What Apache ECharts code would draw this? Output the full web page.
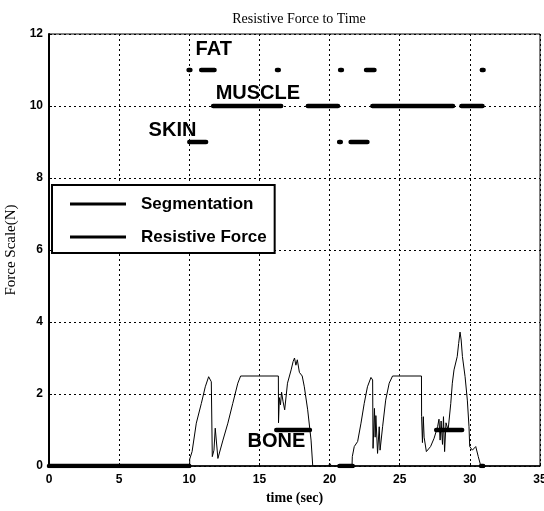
<!DOCTYPE html>
<html>
<head>
<meta charset="utf-8">
<script src="https://cdn.jsdelivr.net/npm/echarts@6/dist/echarts.min.js"></script>
<style>html,body{margin:0;padding:0;background:#fff}#c{width:544px;height:511px}</style>
</head>
<body>
<div id="c"></div>
<script>
// ---- data ----
const xTicks = [0, 5, 10, 15, 20, 25, 30, 35];
const yTicks = [0, 2, 4, 6, 8, 10, 12];

// Resistive force curve: [time (sec), force (N)]
const forceTime = [0,10.03,10.03,10.2,10.5,10.86,11.14,11.38,11.57,11.64,11.76,11.85,11.95,12.04,12.4,12.75,13.1,13.46,13.66,16.35,16.36,16.42,16.5,16.58,16.68,16.8,17.0,17.26,17.4,17.5,17.6,17.7,17.85,18.05,18.2,18.44,18.68,18.8,19.95,20.0,20.15,21.6,21.62,21.76,22.0,22.24,22.47,22.7,22.95,23.07,23.1,23.2,23.25,23.3,23.42,23.54,23.6,23.78,24.0,24.25,24.49,26.55,26.56,26.62,26.68,26.74,26.9,27.2,27.45,27.7,27.8,27.88,27.95,28.05,28.12,28.2,28.3,28.45,28.64,28.75,28.87,29.1,29.2,29.3,29.38,29.47,29.66,29.82,29.94,29.99,30.18,30.42,30.6,30.78,35];
const forceValue = [0,0,0.19,0.4,1.19,1.74,2.2,2.48,2.34,0.26,0.44,1.05,1.0,0.21,0.72,1.19,1.74,2.3,2.5,2.5,1.2,1.9,1.7,2.05,1.8,1.56,2.3,2.67,2.9,3.0,2.8,2.95,2.6,2.5,2.2,1.56,0.72,0,0,0.08,0,0,0.26,0.54,0.68,1.19,1.74,2.2,2.46,2.39,0.49,1.6,0.8,1.4,0.35,1.09,0.44,1.09,1.83,2.3,2.5,2.5,1.37,0.65,1.37,0.8,0.4,0.54,0.77,1.09,1.3,0.72,1.25,0.6,1.37,0.4,1.2,1.0,1.74,2.3,2.67,3.04,3.4,3.72,3.5,3.04,2.48,1.83,1.09,0.54,0.44,0.54,0.26,0];

// Segmentation: time intervals [start, end] at each tissue level
const fatLevel = 11;
const fatSegs = [[9.95,10.08],[10.85,11.8],[16.25,16.38],[20.75,20.88],[22.6,23.2],[30.85,30.98]];
const muscleLevel = 10;
const muscleSegs = [[11.7,16.55],[18.45,20.6],[23.05,28.8],[29.4,30.9]];
const skinLevel = 9;
const skinSegs = [[10.0,11.2],[20.68,20.8],[21.5,22.7]];
const boneLevel = 1;
const boneSegs = [[16.2,18.6],[27.6,29.45]];
const baseLevel = 0;
const baseSegs = [[0,10.0],[20.7,21.65],[30.8,30.95]];

const tissueNames = ['FAT', 'MUSCLE', 'SKIN', 'BONE'];
const tissueTextTime = [10.45, 11.88, 7.1, 14.15];
const tissueTextLevel = [11.58, 10.36, 9.33, 0.69];

// ---- build ----
const forceData = forceTime.map((t, i) => [t, forceValue[i]]);
const segData = [];
[[fatSegs, fatLevel], [muscleSegs, muscleLevel], [skinSegs, skinLevel], [boneSegs, boneLevel], [baseSegs, baseLevel]].forEach(([segs, lv]) => {
  segs.forEach(s => { segData.push([s[0], lv]); segData.push([s[1], lv]); segData.push([s[1], '-']); });
});

const chart = echarts.init(document.getElementById('c'), null, {renderer: 'canvas'});
const tickFont = {color: '#000', fontFamily: 'Liberation Sans, Arial, sans-serif', fontSize: 12, fontWeight: 'bold'};
chart.setOption({
  animation: false,
  backgroundColor: '#fff',
  title: {
    text: 'Resistive Force to Time',
    left: 294, top: 7, textAlign: 'center',
    textStyle: {fontFamily: 'Liberation Serif, Times New Roman, serif', fontSize: 14, fontWeight: 'normal', color: '#000'}
  },
  grid: {left: 49, right: 4, top: 34, bottom: 45, outerBoundsMode: 'none', containLabel: false, show: true, borderColor: '#000', borderWidth: 1, backgroundColor: 'transparent'},
  xAxis: {
    type: 'value', min: 0, max: 35, interval: 5,
    name: 'time (sec)', nameLocation: 'middle', nameGap: 23,
    nameTextStyle: {fontFamily: 'Liberation Serif, Times New Roman, serif', fontSize: 14, color: '#000', fontWeight: 'bold'},
    axisLine: {show: true, onZero: false, lineStyle: {color: '#000', width: 1.5}},
    axisTick: {show: true, inside: true, length: 3, lineStyle: {color: '#000'}},
    axisLabel: Object.assign({margin: 8, formatter: v => xTicks.includes(v) ? String(v) : ''}, tickFont),
    splitLine: {show: true, lineStyle: {color: '#000', type: [2, 3], width: 1}}
  },
  yAxis: {
    type: 'value', min: 0, max: 12, interval: 2,
    name: 'Force Scale(N)', nameLocation: 'middle', nameGap: 29,
    nameTextStyle: {fontFamily: 'Liberation Serif, Times New Roman, serif', fontSize: 15, color: '#000'},
    axisLine: {show: true, onZero: false, lineStyle: {color: '#000', width: 2}},
    axisTick: {show: true, inside: true, length: 3, lineStyle: {color: '#000'}},
    axisLabel: Object.assign({margin: 6, formatter: v => yTicks.includes(v) ? String(v) : ''}, tickFont),
    splitLine: {show: true, lineStyle: {color: '#000', type: [2, 3], width: 1}}
  },
  legend: {
    data: ['Segmentation', 'Resistive Force'],
    orient: 'vertical', left: 52, top: 185,
    backgroundColor: '#fff', borderColor: '#000', borderWidth: 2,
    padding: [9, 8, 6, 18],
    icon: 'rect', itemWidth: 56, itemHeight: 3, itemGap: 13,
    textStyle: {fontFamily: 'Liberation Sans, Arial, sans-serif', fontSize: 17, fontWeight: 'bold', color: '#000', lineHeight: 20, padding: [0, 0, 0, 10]},
    itemStyle: {color: '#000'}
  },
  series: [
    {
      name: 'Resistive Force', type: 'line', data: forceData, symbol: 'none', z: 3,
      lineStyle: {color: '#000', width: 1}, itemStyle: {color: '#000'}
    },
    {
      name: 'Segmentation', type: 'line', data: segData, symbol: 'none', connectNulls: false, z: 4,
      lineStyle: {color: '#000', width: 4.5, cap: 'round'}, itemStyle: {color: '#000'}
    }
  ]
});

// tissue labels placed through the axes' scales
const labelGraphics = tissueNames.map((n, i) => {
  const p = chart.convertToPixel({gridIndex: 0}, [tissueTextTime[i], tissueTextLevel[i]]);
  return {
    type: 'text', x: p[0], y: p[1], z: 10, silent: true,
    style: {text: n, fill: '#000', font: 'bold 20px "Liberation Sans", Arial, sans-serif', textAlign: 'left', textVerticalAlign: 'middle'}
  };
});
chart.setOption({graphic: labelGraphics});
</script>
</body>
</html>
